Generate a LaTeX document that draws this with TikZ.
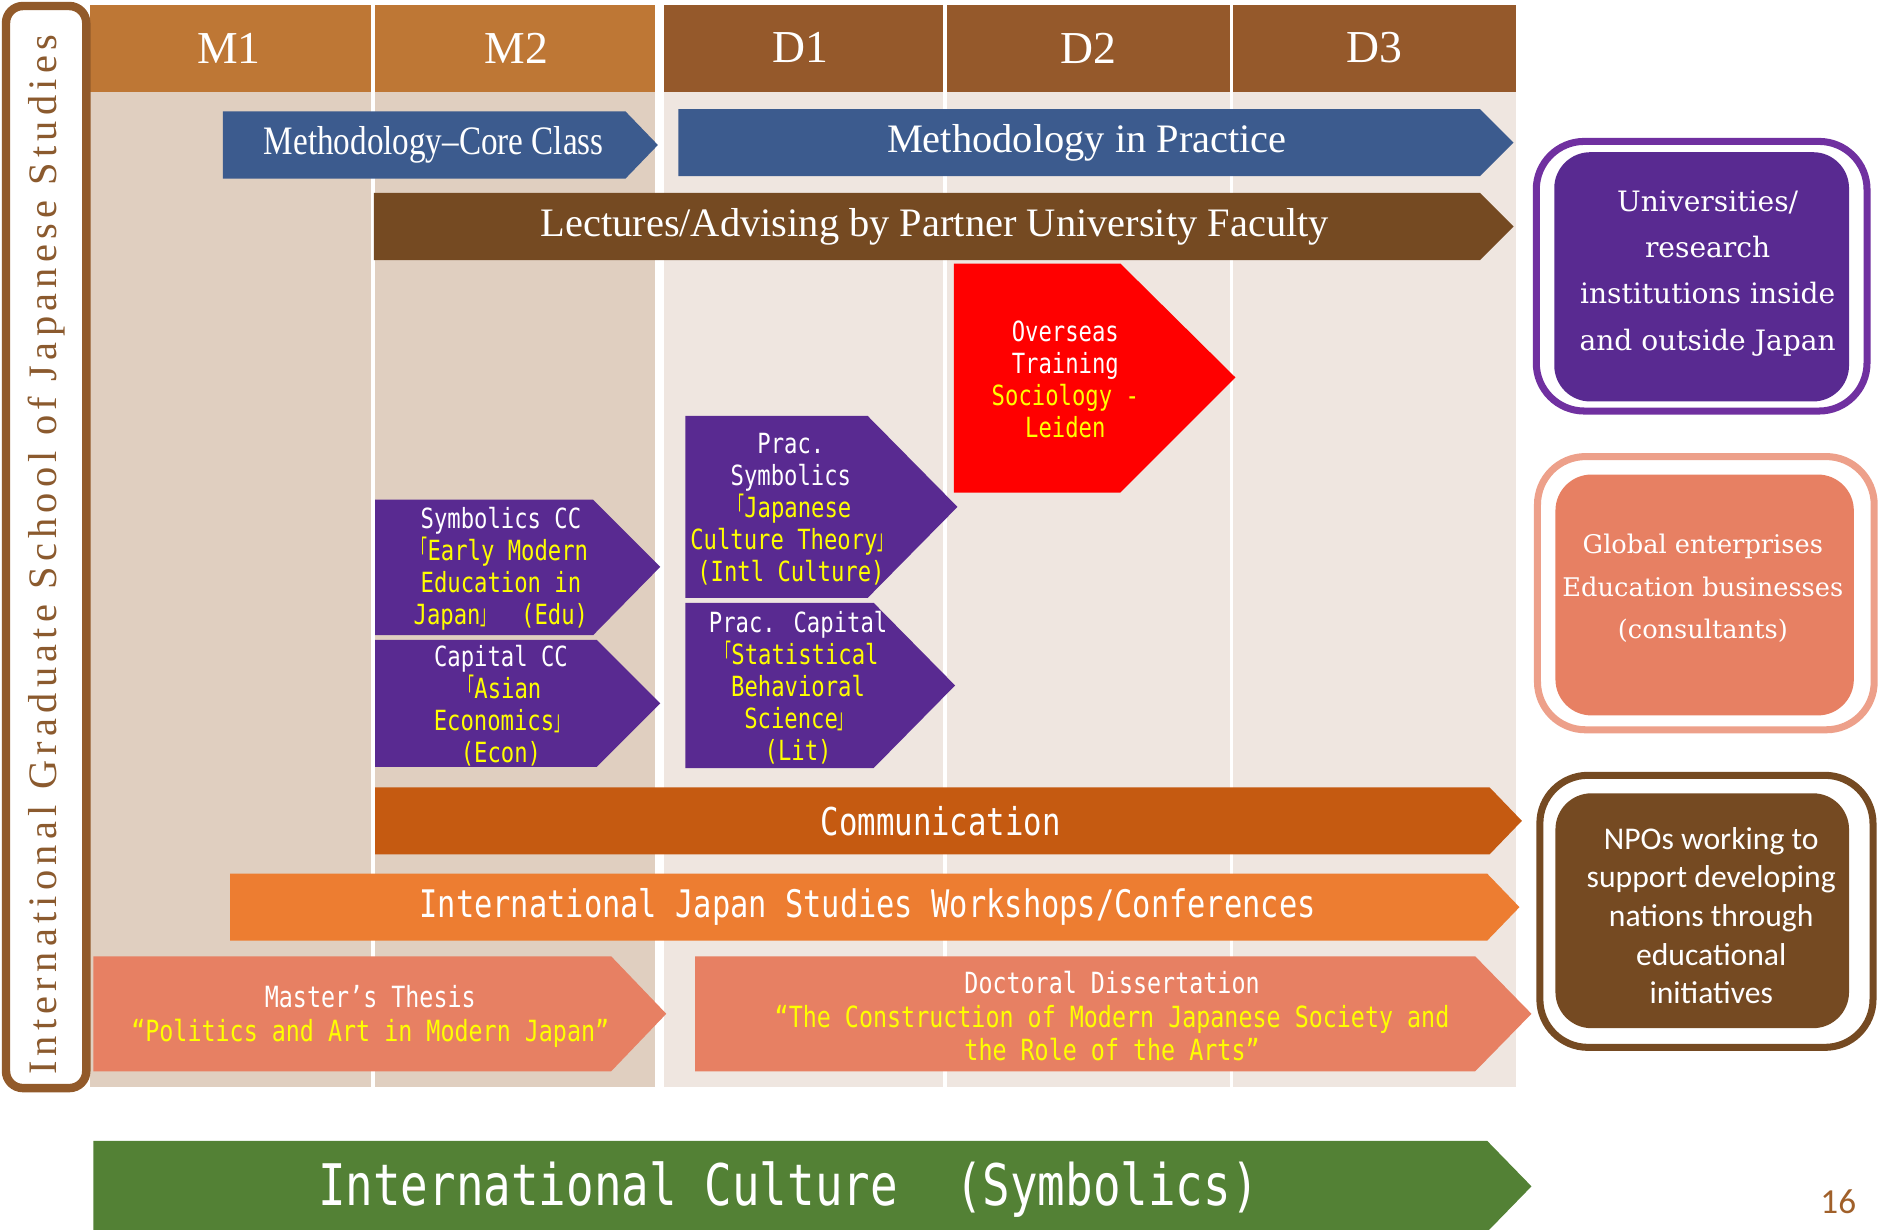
\documentclass[tikz,border=0pt]{standalone}
\usepackage{fontspec}
\setmainfont{Liberation Serif}
\newfontfamily\gothicfont[FakeStretch=0.8]{DejaVu Sans Mono}
\newfontfamily\narrowserif[FakeStretch=0.82]{Liberation Serif}
\newfontfamily\roundserif{DejaVu Serif}
\newfontfamily\calibrifont{Carlito}
\newfontfamily\spacedserif[LetterSpace=13]{Liberation Serif}
\newfontfamily\bracketfont[FakeStretch=0.5]{Noto Sans CJK JP}
\newcommand{\lbrk}{{\bracketfont 「}}
\newcommand{\rbrk}{{\bracketfont 」}}
\newcommand{\yl}[1]{\textcolor{hiyellow}{#1}}

\definecolor{mhead}{HTML}{BE7735}
\definecolor{dhead}{HTML}{95592B}
\definecolor{mbody}{HTML}{E0CFC0}
\definecolor{dbody}{HTML}{EFE6E0}
\definecolor{methblue}{HTML}{3C5B8E}
\definecolor{lectbrown}{HTML}{754A22}
\definecolor{coursepurple}{HTML}{592A91}
\definecolor{commorange}{HTML}{C55A11}
\definecolor{workorange}{HTML}{ED7D31}
\definecolor{thesissalmon}{HTML}{E78063}
\definecolor{cultgreen}{HTML}{538135}
\definecolor{hiyellow}{HTML}{FFFF00}
\definecolor{vbrown}{HTML}{925A2A}
\definecolor{vtext}{HTML}{8B5A2E}
\definecolor{ringpurple}{HTML}{7030A0}
\definecolor{ringsalmon}{HTML}{EDA08A}
\definecolor{pagebrown}{HTML}{A0602A}

\begin{document}
\begin{tikzpicture}[x=0.011983cm, y=-0.011983cm,
  hdr/.style={text=white, font=\fontsize{13}{15}\selectfont},
  band/.style={text=white, font=\fontsize{11.5}{13}\selectfont},
  course/.style={text=white, align=center, font=\gothicfont\fontsize{7.9}{9.1}\selectfont},
  thesis/.style={text=white, align=center, font=\gothicfont\fontsize{8.3}{9.55}\selectfont},
  strip/.style={text=white, font=\gothicfont\fontsize{10.8}{12}\selectfont},
  careerring/.style={line width=2pt, rounded corners=0.48cm, fill=white},
  careerbox/.style={rounded corners=0.36cm},
]
\useasboundingbox (0,0) rectangle (1568,1026);

% Year columns
\foreach \xa/\xb in {75/310, 313/547} {
  \fill[mhead] (\xa,4) rectangle (\xb,77);
  \fill[mbody] (\xa,77) rectangle (\xb,907);
}
\foreach \xa/\xb in {554/787, 790/1026, 1029/1265} {
  \fill[dhead] (\xa,4) rectangle (\xb,77);
  \fill[dbody] (\xa,77) rectangle (\xb,907);
}
\node[hdr] (hM1) at (191,40) {M1};
\node[hdr] (hM2) at (431,40) {M2};
\node[hdr] (hD1) at (668,40) {D1};
\node[hdr] (hD2) at (908,40) {D2};
\node[hdr] (hD3) at (1147,40) {D3};

% School title
\draw[vbrown, line width=2.4pt, rounded corners=0.17cm, fill=white] (5,5) rectangle (72,908);
\node[rotate=90, text=vtext, font=\spacedserif\fontsize{11.5}{13}\selectfont] (school) at (39,463)
  {International Graduate School of Japanese Studies};

% Methodology and lectures
\fill[methblue] (186,93) -- (522,93) -- (549,121) -- (522,149) -- (186,149) -- cycle;
\node[band, font=\narrowserif\fontsize{11.5}{13}\selectfont] (coreclass) at (362,121) {Methodology–Core Class};
\fill[methblue] (566,91) -- (1235,91) -- (1263,119) -- (1235,147) -- (566,147) -- cycle;
\node[band] (practice) at (907,119) {Methodology in Practice};
\fill[lectbrown] (312,161) -- (1235,161) -- (1263,189) -- (1235,217) -- (312,217) -- cycle;
\node[band] (lectures) at (780,189) {Lectures/Advising by Partner University Faculty};

% Overseas training
\fill[red] (796,220) -- (935,220) -- (1031,315) -- (935,411) -- (796,411) -- cycle;
\node[course] (overseas) at (889,317) {Overseas\\Training\\\yl{Sociology -}\\\yl{Leiden}};

% Core and practical courses
\fill[coursepurple] (313,417) -- (495,417) -- (551,473) -- (495,530) -- (313,530) -- cycle;
\node[course] (symcc) at (418,475) {Symbolics CC\\\yl{\lbrk Early Modern}\\\yl{Education in}\\\yl{Japan\rbrk~ (Edu)}};
\fill[coursepurple] (313,534) -- (498,534) -- (551,587) -- (498,640) -- (313,640) -- cycle;
\node[course] (capcc) at (418,589) {Capital CC\\\yl{\lbrk Asian}\\\yl{Economics\rbrk}\\\yl{(Econ)}};
\fill[coursepurple] (572,347) -- (724,347) -- (799,423) -- (724,499) -- (572,499) -- cycle;
\node[course] (pracsym) at (660,425) {Prac.\\Symbolics\\\yl{\lbrk Japanese}\\\yl{Culture Theory\rbrk}\\\yl{(Intl Culture)}};
\fill[coursepurple] (572,503) -- (729,503) -- (797,572) -- (729,641) -- (572,641) -- cycle;
\node[course] (praccap) at (666,574) {Prac. Capital\\\yl{\lbrk Statistical}\\\yl{Behavioral}\\\yl{Science\rbrk}\\\yl{(Lit)}};

% Communication and workshops
\fill[commorange] (313,657) -- (1243,657) -- (1270,685) -- (1243,713) -- (313,713) -- cycle;
\node[strip, font=\gothicfont\fontsize{10.9}{12}\selectfont] (comm) at (785,685) {Communication};
\fill[workorange] (192,729) -- (1241,729) -- (1268,757) -- (1241,785) -- (192,785) -- cycle;
\node[strip] (workshops) at (724,757) {International Japan Studies Workshops/Conferences};

% Theses
\fill[thesissalmon] (78,798) -- (510,798) -- (556,846) -- (510,894) -- (78,894) -- cycle;
\node[thesis] (master) at (309,848) {Master’s Thesis\\\yl{“Politics and Art in Modern Japan”}};
\fill[thesissalmon] (580,798) -- (1231,798) -- (1278,846) -- (1231,894) -- (580,894) -- cycle;
\node[thesis] (doctor) at (928,848) {Doctoral Dissertation\\\yl{“The Construction of Modern Japanese Society and}\\\yl{the Role of the Arts”}};

% Field
\fill[cultgreen] (78,952) -- (1241,952) -- (1278,990) -- (1241,1028) -- (78,1028) -- cycle;
\node[strip, font=\gothicfont\fontsize{16.3}{18}\selectfont] (culture) at (658,993) {International Culture\quad (Symbolics)};

% Career paths
\draw[ringpurple, careerring] (1282,118) rectangle (1558,343);
\fill[coursepurple, careerbox] (1297,127) rectangle (1543,335);
\node[text=white, align=center, font=\roundserif\fontsize{8}{13.2}\selectfont] (univ) at (1425,228)
  {Universities/\\research\\institutions inside\\and outside Japan};
\draw[ringsalmon, careerring] (1283,381) rectangle (1564,609);
\fill[thesissalmon, careerbox] (1298,396) rectangle (1547,597);
\node[text=white, align=center, font=\roundserif\fontsize{7.3}{12.1}\selectfont] (enterprise) at (1421,491)
  {Global enterprises\\Education businesses\\(consultants)};
\draw[lectbrown, careerring] (1285,647) rectangle (1563,874);
\fill[lectbrown, careerbox] (1298,662) rectangle (1543,858);
\node[text=white, align=center, font=\calibrifont\fontsize{9}{11}\selectfont] (npo) at (1428,764)
  {NPOs working to\\support developing\\nations through\\educational\\initiatives};

% Page number
\node[text=pagebrown, font=\calibrifont\fontsize{10}{12}\selectfont] (pagenum) at (1534,1003) {16};
\end{tikzpicture}
\end{document}
